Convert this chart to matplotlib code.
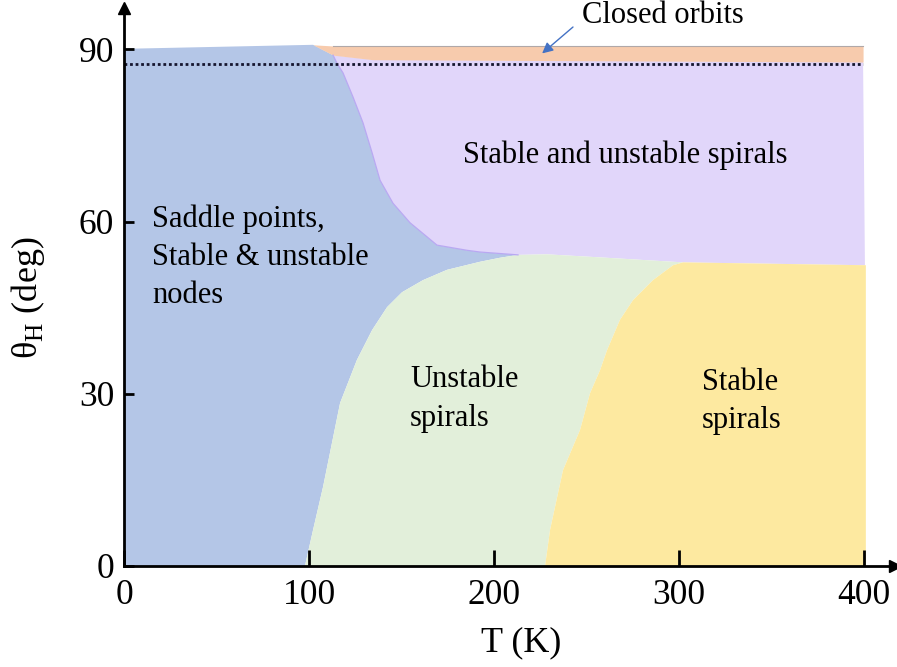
import matplotlib
matplotlib.use("Agg")
import matplotlib.pyplot as plt

# ---- data (T in K, theta_H in deg) ----
# top edge of the saddle/node region
blue_top_T = [0.0, 102.2]
blue_top_th = [90.1, 90.8]

# boundary saddle/node region -> stable & unstable spirals
bp_T = [113.0, 115.1, 118.4, 123.8, 129.2, 134.1, 138.4, 145.4, 154.6, 169.2, 185.4, 192.4, 213.0]
bp_th = [89.0, 87.6, 85.9, 81.7, 77.2, 72.0, 67.2, 63.2, 59.8, 55.9, 55.0, 54.7, 54.2]

# lower edge of the stable & unstable spirals region
pb_T = [213.0, 228.6, 255.7, 302.2, 400.5]
pb_th = [54.2, 54.3, 53.8, 52.9, 52.4]

# boundary saddle/node region -> unstable spirals
bg_T = [97.8, 102.2, 107.6, 116.8, 125.9, 134.1, 142.2, 150.3, 161.6, 174.6, 192.4, 203.2, 213.0]
bg_th = [0.0, 6.3, 13.8, 28.4, 35.9, 41.1, 45.1, 47.7, 49.8, 51.6, 53.0, 53.7, 54.2]

# boundary unstable spirals -> stable spirals
gy_T = [227.6, 230.3, 237.3, 246.5, 251.9, 257.3, 261.1, 268.1, 275.1, 285.9, 296.8, 302.2]
gy_th = [0.0, 6.3, 16.7, 23.7, 30.1, 34.1, 37.6, 42.9, 46.3, 49.8, 52.4, 52.9]

# closed orbits band
orb_T = [102.2, 113.0, 134.6, 399.5]
orb_bot = [90.8, 89.0, 88.2, 87.8]
orb_top = [90.8, 90.6, 90.6, 90.6]
T_right = 401.0
dotted_th = 87.45

x_ticks = [0, 100, 200, 300, 400]
y_ticks = [0, 30, 60, 90]

C_BLUE = "#B4C6E7"
C_PURPLE = "#E1D6FA"
C_GREEN = "#E2EFDA"
C_YELLOW = "#FDE9A0"
C_ORANGE = "#F7CBAD"

plt.rcParams["font.family"] = ["Liberation Serif", "DejaVu Serif"]
plt.rcParams["mathtext.fontset"] = "custom"
plt.rcParams["mathtext.rm"] = "Liberation Serif"
FS = 22       # region labels
FS_TICK = 25.5
FS_LAB = 26
LS = 1.42


def main():
    fig = plt.figure(figsize=(8.97, 6.67), dpi=100)
    ax = fig.add_axes([124 / 897, 101 / 667, 771 / 897, 558 / 667])
    ax.set_xlim(0, 771 / 1.85)
    ax.set_ylim(0, 558 / 5.74)

    # regions
    ax.fill([0.0] + blue_top_T + bp_T + bg_T[::-1][1:],
            [0.0] + blue_top_th + bp_th + bg_th[::-1][1:],
            color=C_BLUE, lw=0)
    ax.fill(bp_T + pb_T[1:] + [399.5, 134.6],
            bp_th + pb_th[1:] + [87.8, 88.2],
            color=C_PURPLE, lw=0)
    ax.fill(bg_T + pb_T[1:4] + gy_T[::-1][1:],
            bg_th + pb_th[1:4] + gy_th[::-1][1:],
            color=C_GREEN, lw=0)
    ax.fill(gy_T + [T_right, T_right],
            gy_th + [pb_th[-1], 0.0],
            color=C_YELLOW, lw=0)
    ax.fill_between(orb_T, orb_bot, orb_top, color=C_ORANGE, lw=0)
    ax.plot(orb_T[1:], orb_top[1:], color="#b0a8a8", lw=0.8)
    ax.plot(bp_T, bp_th, color="#b9a8f2", lw=0.9)

    ax.plot([0, orb_T[-1]], [dotted_th, dotted_th], color="#15152e", lw=2,
            ls=(0, (1, 1)))

    # labels inside regions
    ax.text(15.1, 53.8, "Saddle points,\nStable & unstable\nnodes", fontsize=FS,
            ha="left", va="center", linespacing=LS)
    ax.text(183.2, 70.2, "Stable and unstable spirals", fontsize=FS,
            ha="left", va="baseline")
    ax.text(154.6, 29.1, "Unstable\nspirals", fontsize=FS, ha="left",
            va="center", linespacing=LS)
    ax.text(312.4, 28.7, "Stable\nspirals", fontsize=FS, ha="left",
            va="center", linespacing=LS)
    ax.text(291.4, 95.9, "Closed orbits", fontsize=FS, ha="center",
            va="center", clip_on=False)
    ax.annotate("", xy=(226, 89.3), xytext=(242.7, 93.9),
                annotation_clip=False,
                arrowprops=dict(arrowstyle="-|>", color="#4472C4", lw=1,
                                mutation_scale=16, shrinkA=0, shrinkB=0))

    # axes with arrows
    for side in ["top", "right"]:
        ax.spines[side].set_visible(False)
    for side in ["left", "bottom"]:
        ax.spines[side].set_linewidth(2)
    ax.plot(1, 0, ">k", ms=8, transform=ax.transAxes, clip_on=False)
    ax.plot(0, 1, "^k", ms=8, transform=ax.transAxes, clip_on=False)

    ax.set_xticks(x_ticks)
    ax.set_yticks(y_ticks)
    ax.tick_params(axis="x", direction="in", length=11.5, width=2,
                   labelsize=FS_TICK, pad=9)
    ax.tick_params(axis="y", direction="in", length=7.5, width=2,
                   labelsize=FS_TICK, pad=7)

    fig.text(521 / 897, 1 - 643 / 667, "T (K)", fontsize=FS_LAB,
             ha="center", va="center")
    fig.text(28 / 897, 1 - 298 / 667, r"θ$_\mathregular{H}$ (deg)",
             fontsize=FS_LAB, rotation=90, ha="center", va="center")

    fig.savefig("out.png", dpi=100)


if __name__ == "__main__":
    main()
